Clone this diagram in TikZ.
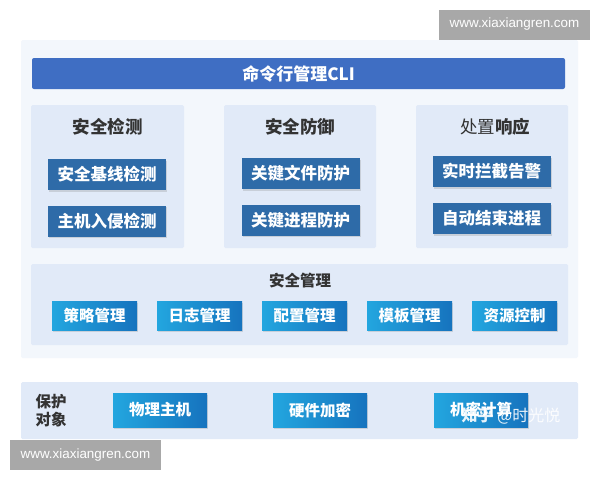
\documentclass[tikz,border=0pt]{standalone}
\usepackage{fontspec}
\setmainfont{Noto Sans CJK SC}
\newfontfamily\wmfont{Liberation Sans}
\usetikzlibrary{shadows}
\definecolor{outerbg}{HTML}{F3F7FC}
\definecolor{panelbg}{HTML}{E1EAF8}
\definecolor{clibar}{HTML}{3F6EC3}
\definecolor{steelbox}{HTML}{2E6BA8}
\definecolor{cyanl}{HTML}{23A6DF}
\definecolor{cyanr}{HTML}{1673BE}
\definecolor{titlegray}{HTML}{333333}
\definecolor{wmgray}{HTML}{A8A8A8}
\tikzset{
	panel/.style={fill=panelbg, draw=none, inner sep=0pt, rounded corners=1.5pt},
	coltitle/.style={text=titlegray, font=\bfseries\fontsize{17.5}{20}\selectfont},
	colbox/.style={fill=steelbox, text=white, inner sep=0pt, minimum width=118pt, minimum height=31pt,
		font=\bfseries\fontsize{16.5}{19}\selectfont, drop shadow={opacity=0.25, shadow xshift=1pt, shadow yshift=-1.5pt}},
	mgmtbox/.style={left color=cyanl, right color=cyanr, text=white, inner sep=0pt, minimum width=85pt,
		font=\bfseries\fontsize{15.5}{18}\selectfont, drop shadow={opacity=0.25, shadow xshift=1pt, shadow yshift=-1.5pt}},
	watermark/.style={fill=wmgray, text=white, inner sep=0pt, minimum width=151pt, minimum height=30pt,
		font=\wmfont\fontsize{13.4}{16}\selectfont}
}
\begin{document}
\begin{tikzpicture}[x=1pt, y=-1pt]
	\useasboundingbox[fill=white] (0,0) rectangle (600,480);
	% background panels
	\node[panel, fill=outerbg, minimum width=557pt, minimum height=318pt] (outer) at (299.5,199) {};
	\node[fill=clibar, text=white, inner sep=0pt, rounded corners=2pt, minimum width=533pt, minimum height=31pt,
		font=\bfseries\fontsize{17}{20}\selectfont] (cli) at (298.5,73.5) {命令行管理CLI};

	\node[panel, minimum width=153pt, minimum height=143pt] (detect) at (107.5,176.5) {};
	\node[panel, minimum width=152pt, minimum height=143pt] (defend) at (300,176.5) {};
	\node[panel, minimum width=152pt, minimum height=143pt] (respond) at (492,176.5) {};
	\node[coltitle] (detecttitle) at (107.5,127) {安全检测};
	\node[coltitle] (defendtitle) at (300,127) {安全防御};
	\node[coltitle] (respondtitle) at (495,127) {{\mdseries 处置}响应};

	\node[colbox] (baseline) at (107,174.5) {安全基线检测};
	\node[colbox] (intrusion) at (107,221) {主机入侵检测};
	\node[colbox] (fileprot) at (300.5,173.5) {关键文件防护};
	\node[colbox] (procprot) at (300.5,220) {关键进程防护};
	\node[colbox] (intercept) at (491.5,171.5) {实时拦截告警};
	\node[colbox] (killproc) at (491.5,218.5) {自动结束进程};

	% security management
	\node[panel, minimum width=537pt, minimum height=81pt] (mgmt) at (299.5,304.5) {};
	\node[text=titlegray, font=\bfseries\fontsize{15.5}{18}\selectfont] (mgmttitle) at (300,281) {安全管理};
	\foreach \name/\label [count=\i from 0] in {policy/策略管理, logs/日志管理, config/配置管理, templ/模板管理, resource/资源控制}
		\node[mgmtbox, minimum height=29pt] (\name) at (94.5+105*\i,315.5) {\label};

	% protected objects
	\node[panel, minimum width=557pt, minimum height=57pt] (objects) at (299.5,410.5) {};
	\node[text=titlegray, font=\bfseries\fontsize{15.5}{18}\selectfont, align=left] (objtitle) at (51,411) {保护\\对象};
	\node[mgmtbox, minimum width=94pt, minimum height=34pt] (host) at (160,410) {物理主机};
	\node[mgmtbox, minimum width=94pt, minimum height=34pt] (crypto) at (320,410) {硬件加密};
	\node[mgmtbox, minimum width=94pt, minimum height=34pt] (confcomp) at (481,410) {机密计算};

	% watermarks
	\node[watermark] (wmtop) at (514.5,24.5) {www.xiaxiangren.com};
	\node[watermark] (wmbottom) at (85.5,455) {www.xiaxiangren.com};
	\node[text=white, opacity=0.9, font=\fontsize{16}{18}\selectfont] (zhihu) at (511,416) {{\bfseries 知乎} @时光悦};
\end{tikzpicture}
\end{document}
